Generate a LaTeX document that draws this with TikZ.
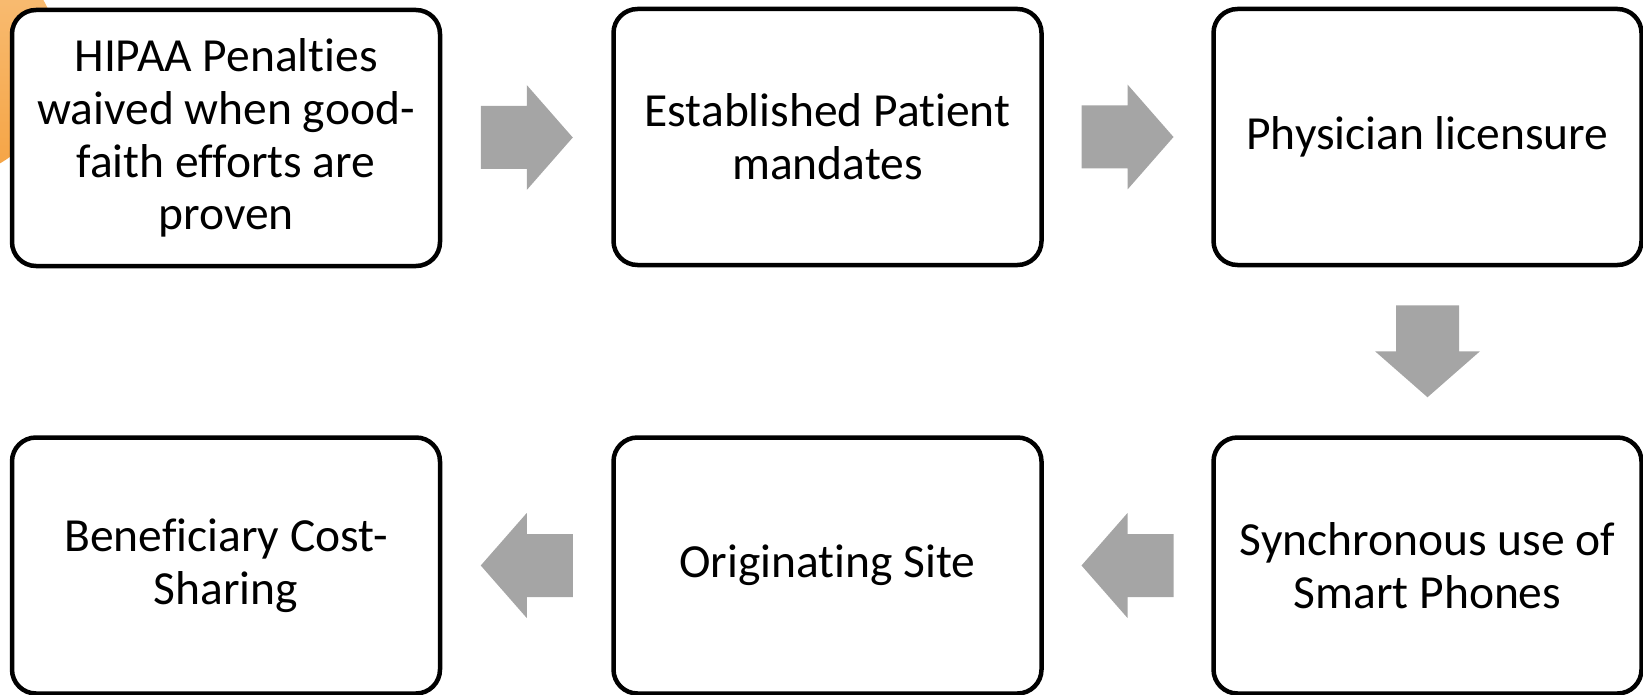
\documentclass[tikz,border=0pt]{standalone}
\usepackage{fontspec}
\setmainfont{Carlito}[Ligatures={NoCommon,NoContextual}, Contextuals=NoAlternate]
\usetikzlibrary{calc}
\definecolor{arrowgray}{HTML}{A5A5A5}
\definecolor{orangelight}{HTML}{F9C27E}
\definecolor{orangedeep}{HTML}{F5A343}
\tikzset{
  stepbox/.style={draw=black, fill=white, line width=4.5pt, rounded corners=24pt,
    minimum width=428pt, minimum height=256pt, align=center,
    font=\fontsize{47.5pt}{52.7pt}\selectfont},
  blockarrow/.pic={
    \fill[arrowgray] (-46,-31.5) -- (0,-31.5) -- (0,-52.5) -- (46,0)
      -- (0,52.5) -- (0,31.5) -- (-46,31.5) -- cycle;
  }
}
\begin{document}
\begin{tikzpicture}[x=1pt, y=-1pt]
\useasboundingbox (0,0) rectangle (1643,695);
% orange disc peeking out at the left edge
\begin{scope}
  \clip (0,0) rectangle (1643,695);
  \shade[top color=orangelight, bottom color=orangedeep] (-60,60) circle (119.5);
\end{scope}
% top row
\node[stepbox] (hipaa) at (226,138) {HIPAA Penalties\\waived when good-\\faith efforts are\\proven};
\node[stepbox] (estab) at (827.5,137) {Established Patient\\mandates};
\node[stepbox] (licen) at (1427.5,137) {Physician licensure};
% bottom row
\node[stepbox] (smart) at (1427.5,565.5) {Synchronous use of\\Smart Phones};
\node[stepbox] (orig) at (827.5,565.5) {Originating Site};
\node[stepbox] (cost) at (226,565.5) {Beneficiary Cost-\\Sharing};
% block arrows between the steps
\path ($(hipaa.east)!0.5!(estab.west)$) pic {blockarrow};
\path ($(estab.east)!0.5!(licen.west)$) pic {blockarrow};
\path ($(licen.south)!0.5!(smart.north)$) pic[rotate=-90] {blockarrow};
\path ($(smart.west)!0.5!(orig.east)$) pic[rotate=180] {blockarrow};
\path ($(orig.west)!0.5!(cost.east)$) pic[rotate=180] {blockarrow};
\end{tikzpicture}
\end{document}
